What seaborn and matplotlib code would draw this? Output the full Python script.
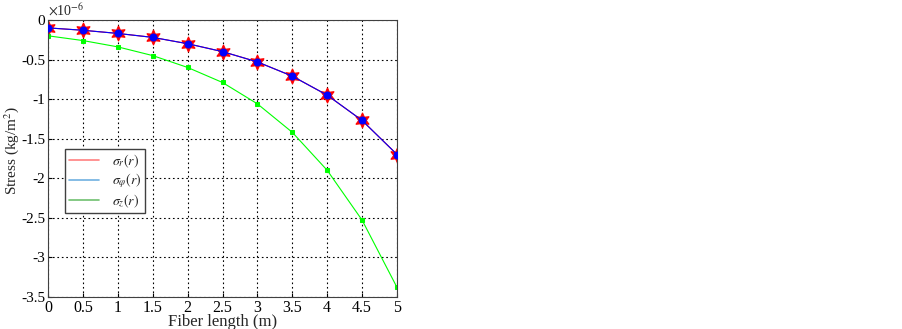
import numpy as np
import pandas as pd
import matplotlib
matplotlib.use('Agg')
import matplotlib.pyplot as plt
import seaborn as sns
from matplotlib.lines import Line2D

# Data (stress in units of 1e-6 kg/m^2)
fiber_length = [0, 0.5, 1, 1.5, 2, 2.5, 3, 3.5, 4, 4.5, 5]
sigma_r = [-0.10, -0.13, -0.17, -0.22, -0.30, -0.40, -0.53, -0.71, -0.95, -1.27, -1.70]
sigma_phi = [-0.10, -0.13, -0.17, -0.22, -0.30, -0.40, -0.53, -0.71, -0.95, -1.27, -1.70]
sigma_z = [-0.20, -0.26, -0.34, -0.45, -0.60, -0.79, -1.06, -1.42, -1.90, -2.53, -3.38]
x_ticks = [0, 0.5, 1, 1.5, 2, 2.5, 3, 3.5, 4, 4.5, 5]
y_ticks = [-3.5, -3, -2.5, -2, -1.5, -1, -0.5, 0]

sns.set_style("ticks")
plt.rcParams['font.family'] = ['Liberation Serif', 'DejaVu Serif']
plt.rcParams['mathtext.fontset'] = 'stix'

df = pd.DataFrame({'x': fiber_length, 'r': sigma_r, 'phi': sigma_phi, 'z': sigma_z})

fig = plt.figure(figsize=(9.02, 3.29), dpi=100)
ax = fig.add_axes([0.0532, 0.0973, 0.3870, 0.8420])

# red line with hexagram markers
sns.lineplot(data=df, x='x', y='r', ax=ax, color='#ff0000', linewidth=0.8,
             marker=(6, 1, 0), markersize=11, markeredgecolor='#ff0000', legend=False)
# blue line with circle markers
sns.lineplot(data=df, x='x', y='phi', ax=ax, color='#0000ff', linewidth=0.8,
             marker='o', markersize=5, markeredgecolor='#0000ff', zorder=5, legend=False)
# green line with square markers
sns.lineplot(data=df, x='x', y='z', ax=ax, color='#00ff00', linewidth=0.8,
             marker='s', markersize=3.5, markeredgecolor='#00ff00', legend=False)

ax.set_xlim(0, 5)
ax.set_ylim(-3.5, 0)
ax.set_xticks(x_ticks)
ax.set_xticklabels([f'{t:g}' for t in x_ticks])
ax.set_yticks(y_ticks)
ax.set_yticklabels([f'{t:g}' for t in y_ticks])
ax.grid(True, color='black', linestyle=(0, (1.5, 2.5)), linewidth=0.8)
ax.tick_params(direction='in', length=3, labelsize=11.5, colors='black', pad=2)
ax.tick_params(axis='y', labelsize=11)
for s in ax.spines.values():
    s.set_visible(True)
    s.set_color('#404040')
    s.set_linewidth(0.8)

ax.set_xlabel('Fiber length (m)', fontsize=12)
ax.set_ylabel('Stress (kg/m$^2$)', fontsize=11)
ax.xaxis.set_label_coords(0.5, -0.062)
ax.yaxis.set_label_coords(-0.078, 0.53)
ax.text(0.0, 1.005, r'$\times$10$^{-6}$', transform=ax.transAxes, fontsize=10,
        ha='left', va='bottom')

handles = [Line2D([], [], color='#ff8080', lw=1.2),
           Line2D([], [], color='#70b0e0', lw=1.2),
           Line2D([], [], color='#70c070', lw=1.2)]
labels = [r'$\sigma_r(r)$', r'$\sigma_\varphi(r)$', r'$\sigma_z(r)$']
leg = ax.legend(handles, labels, loc='upper left', bbox_to_anchor=(0.03, 0.56),
                fontsize=10, frameon=True, fancybox=False, framealpha=1,
                handlelength=2.2, borderpad=0.25, labelspacing=0.15, handletextpad=0.9)
leg.get_frame().set_edgecolor('#404040')
leg.get_frame().set_linewidth(1.0)

plt.savefig('out.png', dpi=100, facecolor='white')
plt.close()
